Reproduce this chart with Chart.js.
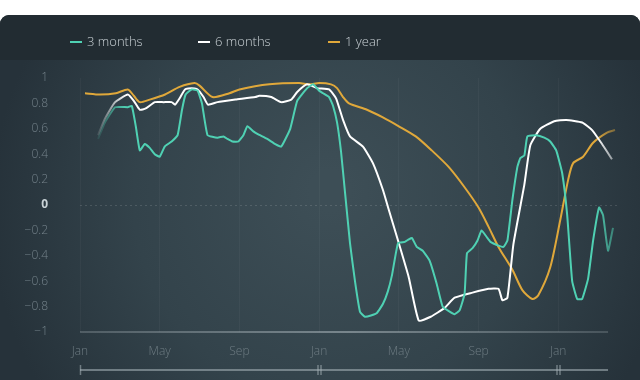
<!DOCTYPE html>
<html>
<head>
<meta charset="utf-8">
<script src="https://cdn.jsdelivr.net/npm/chart.js@4/dist/chart.umd.min.js"></script>
<style>
  html, body { margin:0; padding:0; background:#ffffff; width:640px; height:380px; overflow:hidden; }
  #wrap { position:relative; width:640px; height:380px; }
  canvas { position:absolute; left:0; top:0; }
  .leg { position:absolute; top:32px; font-family:"Open Sans", sans-serif; font-weight:300; font-size:13px; color:#c9d1d5; white-space:nowrap; }
  .leg i { display:inline-block; width:12px; height:2px; vertical-align:middle; margin-right:5px; position:relative; top:-1px; }
</style>
</head>
<body>
<div id="wrap">
  <canvas id="c" width="640" height="380"></canvas>
  <div class="leg" style="left:70px"><i style="background:#4fd1b3"></i>3 months</div>
  <div class="leg" style="left:198px"><i style="background:#ffffff"></i>6 months</div>
  <div class="leg" style="left:328px"><i style="background:#e0a83a"></i>1 year</div>
</div>
<script>
// ---- data (x = months since first January, y = correlation) ----
const tickLabels = ['Jan','May','Sep','Jan','May','Sep','Jan'];
const seriesNames = ['3 months','6 months','1 year'];

const threeMonths = [
 [0.9,0.52],[1.25,0.65],[1.76,0.77],[2.4,0.77],[2.6,0.78],[2.8,0.62],[3.0,0.43],[3.25,0.48],[3.5,0.45],[3.75,0.40],
 [4.0,0.38],[4.25,0.46],[4.6,0.50],[4.9,0.55],[5.12,0.75],[5.3,0.87],[5.6,0.91],[5.9,0.90],[6.12,0.80],[6.4,0.55],
 [6.9,0.53],[7.2,0.54],[7.4,0.52],[7.65,0.50],[7.95,0.50],[8.2,0.55],[8.4,0.62],[8.7,0.58],[8.9,0.56],[9.4,0.52],
 [9.8,0.48],[10.1,0.46],[10.55,0.60],[10.9,0.82],[11.4,0.92],[11.7,0.95],[12.0,0.90],[12.2,0.88],[12.5,0.85],[12.7,0.78],
 [12.9,0.65],[13.1,0.42],[13.3,0.10],[13.55,-0.30],[13.8,-0.60],[14.05,-0.84],[14.3,-0.88],[14.6,-0.87],[14.9,-0.85],[15.2,-0.78],
 [15.45,-0.68],[15.66,-0.55],[15.96,-0.30],[16.3,-0.29],[16.5,-0.27],[16.66,-0.26],[16.9,-0.33],[17.2,-0.36],[17.55,-0.44],[17.9,-0.62],
 [18.2,-0.80],[18.55,-0.84],[18.8,-0.86],[19.05,-0.83],[19.3,-0.70],[19.42,-0.38],[19.7,-0.34],[19.95,-0.28],[20.15,-0.20],[20.4,-0.25],
 [20.6,-0.29],[21.0,-0.32],[21.25,-0.33],[21.45,-0.28],[21.7,0.04],[21.95,0.30],[22.1,0.37],[22.3,0.39],[22.45,0.54],[22.9,0.55],
 [23.3,0.53],[23.6,0.50],[23.9,0.43],[24.2,0.25],[24.45,-0.08],[24.7,-0.60],[24.95,-0.74],[25.2,-0.74],[25.5,-0.58],[25.75,-0.28],
 [26.05,-0.02],[26.25,-0.08],[26.5,-0.36],[26.75,-0.18]
];
const sixMonths = [
 [0.9,0.55],[1.25,0.68],[1.76,0.81],[2.4,0.87],[2.7,0.82],[3.0,0.75],[3.3,0.76],[3.76,0.81],[4.2,0.81],[4.6,0.81],
 [4.77,0.79],[5.0,0.84],[5.27,0.91],[5.6,0.92],[5.9,0.91],[6.2,0.85],[6.42,0.79],[6.9,0.81],[7.8,0.83],[8.8,0.85],
 [9.0,0.86],[9.6,0.85],[10.1,0.81],[10.6,0.83],[10.9,0.89],[11.4,0.95],[11.9,0.92],[12.5,0.91],[12.85,0.84],[13.2,0.67],
 [13.55,0.54],[14.2,0.46],[14.7,0.33],[15.2,0.12],[15.5,-0.04],[15.96,-0.28],[16.5,-0.57],[17.0,-0.91],[17.6,-0.88],[18.3,-0.81],
 [18.8,-0.73],[19.7,-0.69],[20.5,-0.66],[21.0,-0.66],[21.2,-0.75],[21.45,-0.73],[21.75,-0.31],[22.3,0.16],[22.6,0.47],[23.1,0.60],
 [23.8,0.66],[24.4,0.67],[25.2,0.65],[25.7,0.59],[26.2,0.48],[26.7,0.36]
];
const oneYear = [
 [0.25,0.88],[1.0,0.87],[1.8,0.88],[2.4,0.91],[2.7,0.86],[3.0,0.81],[3.5,0.83],[4.27,0.87],[5.0,0.93],[5.75,0.96],
 [6.0,0.94],[6.65,0.85],[7.5,0.88],[8.0,0.91],[9.5,0.95],[11.0,0.96],[11.5,0.95],[12.0,0.96],[12.6,0.95],[12.9,0.92],
 [13.2,0.85],[13.5,0.80],[14.4,0.75],[15.2,0.69],[16.0,0.62],[16.85,0.54],[17.65,0.43],[18.5,0.30],[19.3,0.14],[20.0,-0.02],
 [20.5,-0.17],[21.0,-0.33],[21.7,-0.51],[22.2,-0.67],[22.7,-0.74],[23.0,-0.71],[23.6,-0.49],[24.1,-0.12],[24.5,0.20],[24.75,0.33],
 [25.25,0.38],[25.75,0.49],[26.45,0.57],[26.85,0.59]
];

const toPts = arr => arr.map(p => ({x:p[0], y:p[1]}));
const isZero = ctx => !!(ctx && ctx.tick && Math.abs(ctx.tick.value) < 1e-9);

function fadeColor(rgb, fadeStart) {
  return function(ctx) {
    const chart = ctx.chart, area = chart.chartArea;
    if (!area || !chart.scales.x) return 'rgb(' + rgb + ')';
    const xs = chart.scales.x;
    const g = chart.ctx.createLinearGradient(area.left, 0, area.right, 0);
    const w = area.right - area.left;
    const pos = v => Math.min(1, Math.max(0, (xs.getPixelForValue(v) - area.left) / w));
    if (fadeStart) {
      g.addColorStop(pos(0.8), 'rgba(' + rgb + ',0.05)');
      g.addColorStop(pos(2.3), 'rgba(' + rgb + ',1)');
    } else {
      g.addColorStop(0, 'rgba(' + rgb + ',1)');
    }
    g.addColorStop(pos(25.9), 'rgba(' + rgb + ',1)');
    g.addColorStop(pos(27), 'rgba(' + rgb + ',0.35)');
    return g;
  };
}

const bgPlugin = {
  id: 'bg',
  beforeDraw(chart) {
    const c = chart.ctx;
    c.save();
    c.fillStyle = '#ffffff';
    c.fillRect(0, 0, 640, 380);
    c.beginPath();
    const r = 9, top = 15;
    c.moveTo(0, top + r);
    c.arcTo(0, top, r, top, r);
    c.lineTo(640 - r, top);
    c.arcTo(640, top, 640, top + r, r);
    c.lineTo(640, 380);
    c.lineTo(0, 380);
    c.closePath();
    c.fillStyle = '#242f35';
    c.fill();
    c.clip();
    const g = c.createRadialGradient(330, 190, 20, 330, 210, 340);
    g.addColorStop(0, '#3d4e56');
    g.addColorStop(0.55, '#33434b');
    g.addColorStop(1, '#26323a');
    c.fillStyle = g;
    c.fillRect(0, 60, 640, 320);
    c.fillStyle = '#222c32';
    c.fillRect(0, top, 640, 45);
    c.restore();
  },
  beforeDatasetsDraw(chart) {
    const c = chart.ctx, xs = chart.scales.x, ys = chart.scales.y, area = chart.chartArea;
    c.save();
    const y0 = Math.round(ys.getPixelForValue(0)) + 0.5;
    c.strokeStyle = 'rgba(255,255,255,0.13)';
    c.lineWidth = 1;
    c.setLineDash([2, 3]);
    c.beginPath(); c.moveTo(area.left, y0); c.lineTo(area.right, y0); c.stroke();
    c.setLineDash([]);
    const yb = ys.getPixelForValue(-1);
    const lg = c.createLinearGradient(area.left, 0, area.right, 0);
    lg.addColorStop(0, 'rgba(190,200,205,0.25)');
    lg.addColorStop(0.5, 'rgba(200,210,215,0.45)');
    lg.addColorStop(1, 'rgba(190,200,205,0.2)');
    c.strokeStyle = lg;
    c.lineWidth = 2;
    c.beginPath(); c.moveTo(area.left, yb); c.lineTo(xs.getPixelForValue(26.5), yb); c.stroke();
    const yn = 370;
    c.strokeStyle = 'rgba(170,182,188,0.55)';
    c.lineWidth = 2;
    c.beginPath(); c.moveTo(xs.getPixelForValue(0), yn); c.lineTo(xs.getPixelForValue(26.5), yn); c.stroke();
    c.lineWidth = 1.5;
    [0, 12, 24].forEach(m => {
      const px = Math.round(xs.getPixelForValue(m));
      c.beginPath();
      if (m === 0) { c.moveTo(px + 0.5, yn - 5); c.lineTo(px + 0.5, yn + 5); }
      else {
        c.moveTo(px - 1, yn - 5); c.lineTo(px - 1, yn + 5);
        c.moveTo(px + 2, yn - 5); c.lineTo(px + 2, yn + 5);
      }
      c.stroke();
    });
    c.restore();
  }
};

new Chart(document.getElementById('c'), {
  type: 'line',
  data: {
    datasets: [
      { label: seriesNames[0], data: toPts(threeMonths), borderColor: fadeColor('79,209,179', true), borderWidth: 2, pointRadius: 0, tension: 0.12, order: 1 },
      { label: seriesNames[1], data: toPts(sixMonths), borderColor: fadeColor('255,255,255', true), borderWidth: 2, pointRadius: 0, tension: 0.15, order: 2 },
      { label: seriesNames[2], data: toPts(oneYear), borderColor: fadeColor('224,168,58', false), borderWidth: 2, pointRadius: 0, tension: 0.25, order: 3 }
    ]
  },
  options: {
    responsive: false,
    animation: false,
    layout: { padding: { top: 78, right: 22, left: 0, bottom: 0 } },
    plugins: { legend: { display: false }, tooltip: { enabled: false } },
    scales: {
      x: {
        type: 'linear', min: 0, max: 27,
        afterFit(s) { s.height = 48; },
        border: { display: false },
        grid: { drawTicks: false, color: ctx => (ctx.tick && ctx.tick.value % 4 === 0) ? 'rgba(255,255,255,0.035)' : 'rgba(0,0,0,0)' },
        ticks: {
          stepSize: 4, padding: 12, maxRotation: 0, autoSkip: false,
          color: '#6e7c83',
          font: { family: '"Open Sans", sans-serif', size: 12, weight: 300 },
          callback: v => (v % 4 === 0 && tickLabels[v / 4] !== undefined) ? tickLabels[v / 4] : ''
        }
      },
      y: {
        min: -1, max: 1,
        afterFit(s) { s.width = 80; },
        border: { display: false },
        grid: { display: false, drawTicks: false },
        ticks: {
          stepSize: 0.2, padding: 32,
          color: ctx => isZero(ctx) ? '#c9d2d6' : '#74828a',
          font: ctx => ({ family: '"Open Sans", sans-serif', size: 12, weight: isZero(ctx) ? 'bold' : 300 }),
          callback: v => {
            const r = Math.round(v * 10) / 10;
            if (Math.abs(r) < 1e-9) return '0';
            const a = Math.abs(r);
            const s = (a === 1) ? '1' : a.toFixed(1);
            return (r < 0 ? '\u2212' : '') + s;
          }
        }
      }
    }
  },
  plugins: [bgPlugin]
});
</script>
</body>
</html>
